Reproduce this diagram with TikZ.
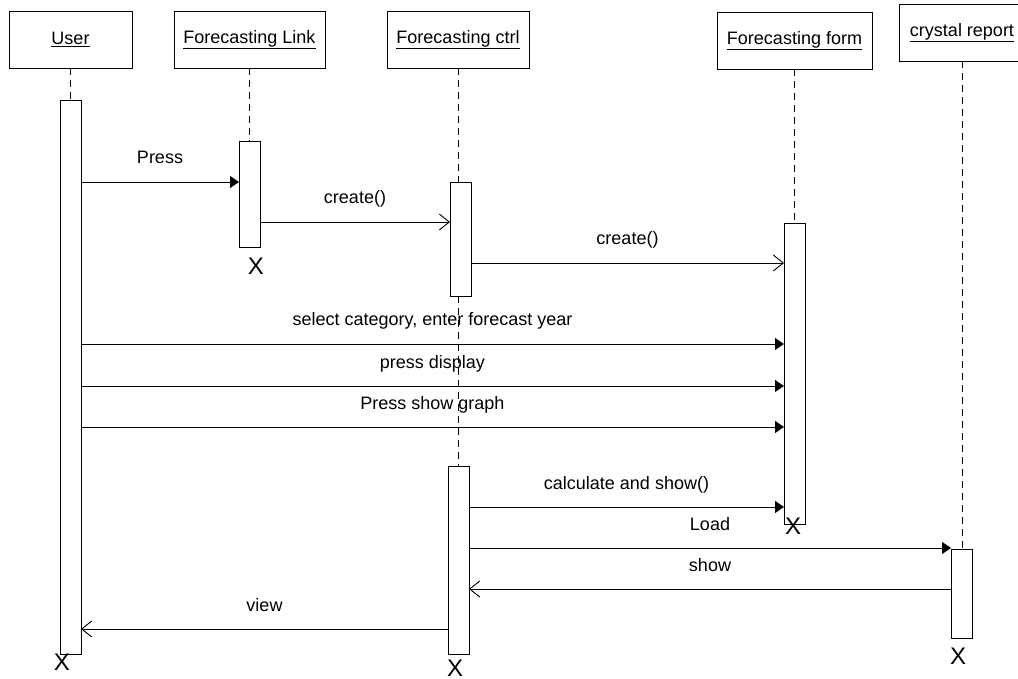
\documentclass[tikz,border=0pt]{standalone}
\usepackage{fontspec}
\setmainfont{Liberation Sans}
\usetikzlibrary{arrows.meta}

\begin{document}
\begin{tikzpicture}[x=1pt, y=-1pt,
  actor/.style={draw, fill=white, line width=0.9pt, minimum height=57pt,
    inner sep=0pt, outer sep=0pt, font=\fontsize{18}{20}\selectfont},
  bar/.style={draw, fill=white, line width=0.9pt, minimum width=21pt,
    inner sep=0pt, outer sep=0pt},
  lifeline/.style={line width=0.9pt, dash pattern=on 7pt off 5pt},
  call/.style={line width=0.9pt, -{Triangle[length=9pt, width=12pt]}},
  reply/.style={line width=0.9pt, -{Straight Barb[length=10pt, width=16pt, line width=0.9pt]}},
  lbl/.style={midway, anchor=base, yshift=18pt, font=\fontsize{18}{20}\selectfont},
  destroy/.style={font=\fontsize{24}{26}\selectfont, inner sep=0pt}]

  \useasboundingbox (0,0) rectangle (1018,679);

  % --- Objects ---
  \node[actor, minimum width=123pt] (user)  at (70.5,39.5) {\underline{User}};
  \node[actor, minimum width=151pt] (link)  at (249.5,39.5) {\underline{Forecasting Link}};
  \node[actor, minimum width=142pt] (ctrl)  at (458,39.5) {\underline{Forecasting ctrl}};
  \node[actor, minimum width=155pt] (form)  at (794.5,40.5) {\underline{Forecasting form}};
  \node[actor, minimum width=126pt] (cryst) at (962,32.5) {\underline{crystal report}};

  % --- Lifelines ---
  \draw[lifeline] (user.south) -- (user.south |- 0,100);
  \draw[lifeline] (link.south) -- (link.south |- 0,141);
  \draw[lifeline] (ctrl.south) -- (ctrl.south |- 0,182);
  \draw[lifeline] (ctrl.south |- 0,296) -- (ctrl.south |- 0,466);
  \draw[lifeline] (form.south) -- (form.south |- 0,223);
  \draw[lifeline] (cryst.south) -- (cryst.south |- 0,549);

  % --- Activations ---
  \node[bar, minimum height=554pt] (userbar)  at (70.5,377) {};
  \node[bar, minimum height=106pt] (linkbar)  at (249.5,194) {};
  \node[bar, minimum height=114pt] (ctrlbarA) at (460.5,239) {};
  \node[bar, minimum height=188pt] (ctrlbarB) at (458.5,560) {};
  \node[bar, minimum height=301pt] (formbar)  at (794.5,373.5) {};
  \node[bar, minimum height=89pt]  (crystbar) at (961.5,593.5) {};

  % --- Messages ---
  \draw[call] (userbar.east |- 0,182) -- (linkbar.west |- 0,182) node[lbl] {Press};
  \draw[reply] (linkbar.east |- 0,222) -- (ctrlbarA.west |- 0,222) node[lbl] {create()};
  \draw[reply] (ctrlbarA.east |- 0,263) -- (formbar.west |- 0,263) node[lbl] {create()};
  \foreach \y/\txt in {344/{select category, enter forecast year},
                       386/{press display},
                       427/{Press show graph}} {
    \draw[call] (userbar.east |- 0,\y) -- (formbar.west |- 0,\y) node[lbl] {\txt};
  }
  \draw[call] (ctrlbarB.east |- 0,507) -- (formbar.west |- 0,507) node[lbl] {calculate and show()};
  \draw[call] (ctrlbarB.east |- 0,548) -- (crystbar.west |- 0,548) node[lbl] {Load};
  \draw[reply] (crystbar.west |- 0,589) -- (ctrlbarB.east |- 0,589) node[lbl] {show};
  \draw[reply] (ctrlbarB.west |- 0,629) -- (userbar.east |- 0,629) node[lbl] {view};

  % --- Destruction ---
  \node[destroy] (userx)  at (62,662) {X};
  \node[destroy] (linkx)  at (256,266) {X};
  \node[destroy] (ctrlx)  at (455,668) {X};
  \node[destroy] (formx)  at (793,526) {X};
  \node[destroy] (crystx) at (958,656) {X};

\end{tikzpicture}
\end{document}
